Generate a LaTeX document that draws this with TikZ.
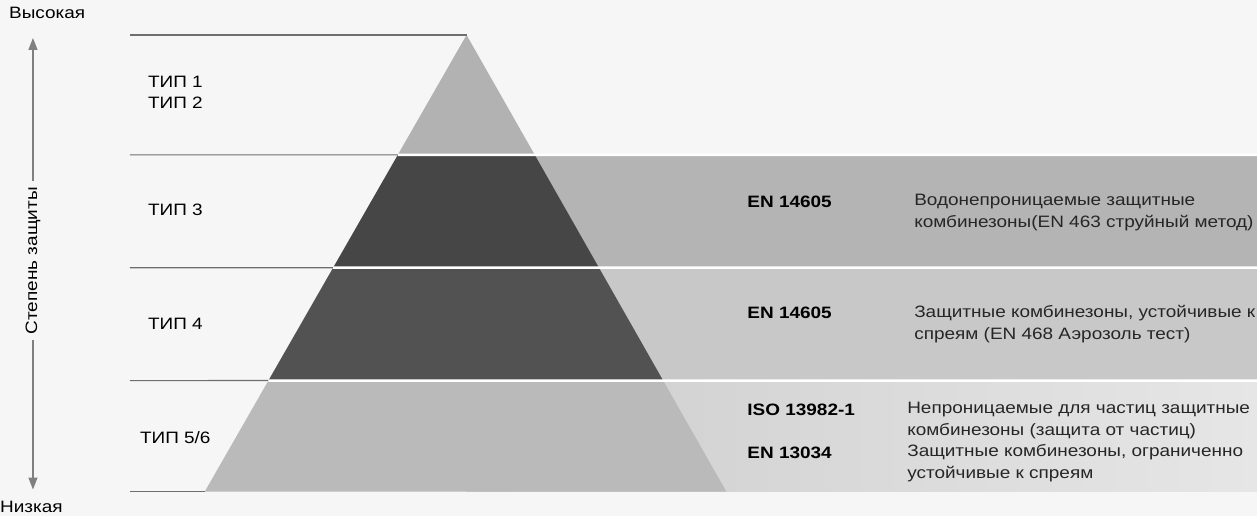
\documentclass[tikz,border=0pt]{standalone}
\usepackage{fontspec}
\setmainfont{Liberation Sans}[FakeStretch=1.15]
\usetikzlibrary{arrows.meta,calc}
\definecolor{bgpaper}{RGB}{246,246,246}
\definecolor{tipgray}{RGB}{178,178,178}
\definecolor{darkband}{RGB}{70,70,70}
\definecolor{midband}{RGB}{82,82,82}
\definecolor{baseband}{RGB}{186,186,186}
\definecolor{rowthree}{RGB}{180,180,180}
\definecolor{rowfour}{RGB}{200,200,200}
\definecolor{rowfiveL}{RGB}{205,205,205}
\definecolor{rowfiveR}{RGB}{230,230,230}
\definecolor{rulegray}{RGB}{110,110,110}

\begin{document}
\begin{tikzpicture}[x=1pt,y=-1pt,
  typelabel/.style={anchor=west,align=left,inner sep=0pt,
                    font=\fontsize{16.5}{21}\selectfont},
  stdlabel/.style={anchor=west,inner sep=0pt,
                   font=\fontsize{16.5}{22}\selectfont\bfseries},
  desclabel/.style={anchor=west,align=left,inner sep=0pt,text=black!85,
                    font=\fontsize{16.5}{22}\selectfont},
  scalelabel/.style={inner sep=0pt,font=\fontsize{16.5}{18}\selectfont},
  levelrule/.style={draw=rulegray,line width=1.2pt},
  gaprule/.style={draw=white,line width=2.5pt},
  scalearrow/.style={draw=gray,line width=1.3pt,
                     -{Triangle[length=12pt,width=9pt]}}
]
% paper
\fill[bgpaper] (0,0) rectangle (1258,517);

% bands to the right of the pyramid
\fill[rowthree] (467,155) rectangle (1258,268);
\fill[rowfour] (467,268) rectangle (1258,381);
\shade[left color=rowfiveL,right color=rowfiveR] (467,381) rectangle (1258,492);

% pyramid
\coordinate (apex) at (467,35);
\coordinate (baseL) at (205,492);
\coordinate (baseR) at (727,492);
\foreach \ta/\tb/\col in {0/0.2626/tipgray,0.2626/0.5098/darkband,
                          0.5098/0.757/midband,0.757/1/baseband}
  \fill[\col] ($(apex)!\ta!(baseL)$) -- ($(apex)!\tb!(baseL)$)
              -- ($(apex)!\tb!(baseR)$) -- ($(apex)!\ta!(baseR)$) -- cycle;

% level rules
\draw[levelrule] (130,35) -- (apex);
\foreach \t/\y in {0.2626/155,0.5098/268,0.757/381}{
  \draw[levelrule] (130,\y) -- ($(apex)!\t!(baseL)$);
  \draw[gaprule] ($(apex)!\t!(baseL)$) -- (1258,\y);
}
\draw[levelrule] (130,492) -- (baseL);

% scale on the left
\node[scalelabel,anchor=west] (high) at (9,13) {Высокая};
\node[scalelabel,anchor=west] (low) at (0,507) {Низкая};
\node[scalelabel,rotate=90] (degree) at (33,261) {Степень защиты};
\coordinate (topTip) at (33,38);
\coordinate (bottomTip) at (33,490);
\draw[scalearrow] (degree.east) ++(0,-6) -- (topTip);
\draw[scalearrow] (degree.west) ++(0,6) -- (bottomTip);

% types
\node[typelabel] (type12) at (148,92) {ТИП 1\\ТИП 2};
\node[typelabel] (type3) at (148,210) {ТИП 3};
\node[typelabel] (type4) at (148,324) {ТИП 4};
\node[typelabel] (type56) at (140,438) {ТИП 5/6};

% standards
\node[stdlabel] (std3) at (748,202) {EN 14605};
\node[desclabel] (desc3) at (915,213) {Водонепроницаемые защитные\\комбинезоны(EN 463 струйный метод)};
\node[stdlabel] (std4) at (748,313) {EN 14605};
\node[desclabel] (desc4) at (915,324) {Защитные комбинезоны, устойчивые к\\спреям (EN 468 Аэрозоль тест)};
\node[stdlabel] (std56a) at (748,410) {ISO 13982-1};
\node[desclabel] (desc56a) at (908,421) {Непроницаемые для частиц защитные\\комбинезоны (защита от частиц)};
\node[stdlabel] (std56b) at (748,453) {EN 13034};
\node[desclabel] (desc56b) at (908,464) {Защитные комбинезоны, ограниченно\\устойчивые к спреям};
\end{tikzpicture}
\end{document}
